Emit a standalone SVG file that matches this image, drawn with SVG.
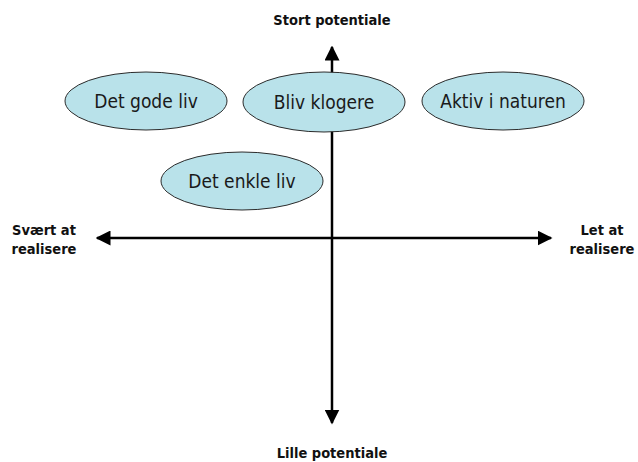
<svg xmlns="http://www.w3.org/2000/svg" width="638" height="462" viewBox="0 0 638 462">
<style>
.node ellipse{fill:#b9e2ea;stroke:#2b2b2b;stroke-width:1}
.node text{font-family:"DejaVu Sans Condensed","DejaVu Sans",sans-serif;font-size:19px;fill:#1a1a1a;text-anchor:middle}
.lbl{font-family:"DejaVu Sans Condensed","DejaVu Sans",sans-serif;font-size:14.5px;font-weight:bold;fill:#111;text-anchor:middle}
.axis{stroke:#000;stroke-width:2.5;fill:none}
</style>
<defs>
<marker id="arr" viewBox="0 0 10 10" refX="9" refY="5" markerWidth="6" markerHeight="6" markerUnits="strokeWidth" orient="auto">
<path d="M0,0 L10,5 L0,10 z" fill="#000"/>
</marker>
</defs>
<g id="connectors">
<line class="axis" x1="332" y1="238" x2="332" y2="47" marker-end="url(#arr)"/>
<line class="axis" x1="332" y1="238" x2="332" y2="423" marker-end="url(#arr)"/>
<line class="axis" x1="332" y1="238" x2="97" y2="238" marker-end="url(#arr)"/>
<line class="axis" x1="332" y1="238" x2="551" y2="238" marker-end="url(#arr)"/>
</g>
<g id="node-det-gode-liv" class="node"><ellipse cx="146" cy="101" rx="81" ry="29"/><text x="146" y="108">Det gode liv</text></g>
<g id="node-bliv-klogere" class="node"><ellipse cx="324" cy="102" rx="81" ry="30"/><text x="324" y="109">Bliv klogere</text></g>
<g id="node-aktiv-i-naturen" class="node"><ellipse cx="503" cy="101" rx="81" ry="29"/><text x="503" y="108">Aktiv i naturen</text></g>
<g id="node-det-enkle-liv" class="node"><ellipse cx="242" cy="181" rx="81" ry="29"/><text x="242" y="188">Det enkle liv</text></g>
<g id="labels">
<text class="lbl" x="332" y="25">Stort potentiale</text>
<text class="lbl" x="332" y="458">Lille potentiale</text>
<text class="lbl" x="44" y="235">Svært at</text>
<text class="lbl" x="44" y="254">realisere</text>
<text class="lbl" x="602" y="235">Let at</text>
<text class="lbl" x="602" y="254">realisere</text>
</g>
</svg>
